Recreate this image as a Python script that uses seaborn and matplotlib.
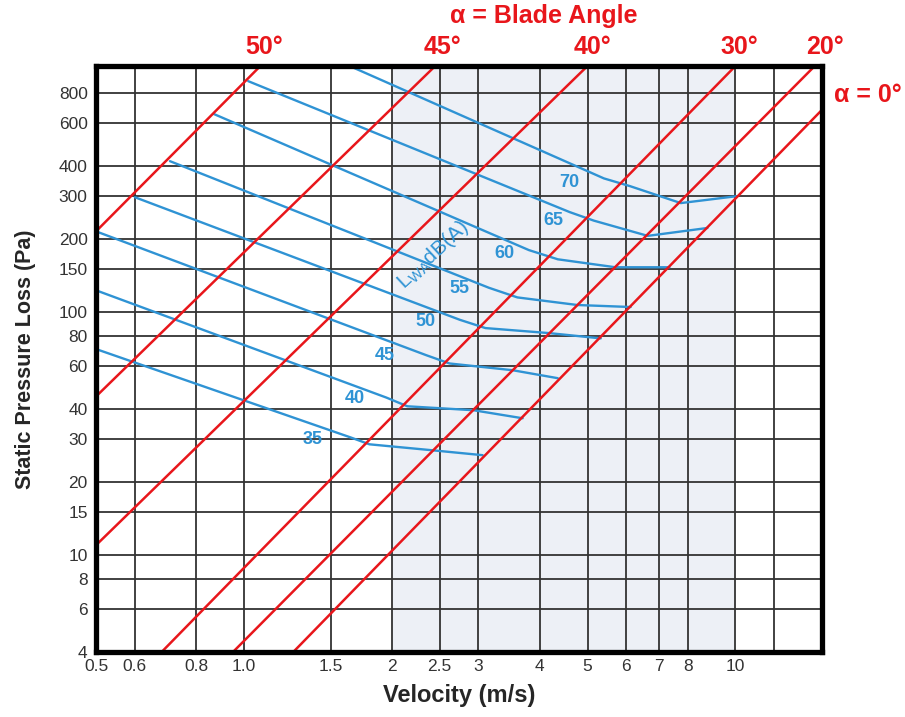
import matplotlib
matplotlib.use("Agg")
import matplotlib.pyplot as plt
import matplotlib.ticker as mticker
import pandas as pd
import seaborn as sns

# blade angle lines, read where each one meets the frame (v m/s, p Pa)
blade_angles = ["50°", "45°", "40°", "30°", "20°", "0°"]
blade_v0 = [0.5, 0.5, 0.5, 0.68, 0.95, 1.26]
blade_p0 = [215, 45, 11, 4, 4, 4]
blade_v1 = [1.08, 2.45, 5.0, 10.0, 14.5, 15.0]
blade_p1 = [1030, 1030, 1030, 1030, 1030, 680]

# sound power curves L_WA dB(A): start, bend on 30°, on 20°, end on 0°
levels = [35, 40, 45, 50, 55, 60, 65, 70]
level_v = [
    [0.5, 1.65, 1.8, 2.43, 3.06],
    [0.5, 1.95, 2.15, 2.93, 3.69],
    [0.5, 2.35, 2.62, 3.52, 4.35],
    [0.6, 2.75, 3.1, 4.18, 5.32],
    [0.707, 3.15, 3.6, 4.77, 6.12],
    [0.869, 3.8, 4.35, 5.70, 7.34],
    [1.02, 4.6, 5.15, 6.63, 8.77],
    [1.64, 5.4, 6.1, 7.74, 10.06],
]
level_p = [
    [70.5, 30.5, 28.6, 27.0, 25.8],
    [123, 44.5, 41.0, 39.5, 36.6],
    [215, 66.5, 61.5, 57.7, 53.5],
    [297, 93, 86, 82, 78],
    [418, 126, 115, 107, 105],
    [653, 180, 165, 153, 153],
    [892, 258, 238, 206, 222],
    [1030, 355, 330, 281, 300],
]
label_v = [1.38, 1.68, 1.93, 2.34, 2.75, 3.39, 4.27, 4.60]
label_p = [29.8, 44.2, 66.5, 91.8, 125.5, 175, 239, 343]

x_ticks = [0.5, 0.6, 0.8, 1.0, 1.5, 2, 2.5, 3, 4, 5, 6, 7, 8, 10]
x_ticklabels = ["0.5", "0.6", "0.8", "1.0", "1.5", "2", "2.5", "3", "4",
                "5", "6", "7", "8", "10"]
x_grid = x_ticks + [12]
y_ticks = [4, 6, 8, 10, 15, 20, 30, 40, 60, 80, 100, 150, 200, 300, 400,
           600, 800]

RED = "#e8161b"
BLUE = "#2f93d4"

sns.set_style("white")
plt.rcParams["font.family"] = ["Liberation Sans", "DejaVu Sans"]

rows = []
for ang, v0, p0, v1, p1 in zip(blade_angles, blade_v0, blade_p0, blade_v1, blade_p1):
    rows.append((ang, v0, p0))
    rows.append((ang, v1, p1))
blade_df = pd.DataFrame(rows, columns=["angle", "v", "p"])

rows = []
for lev, vs, ps in zip(levels, level_v, level_p):
    for v, p in zip(vs, ps):
        rows.append((lev, v, p))
level_df = pd.DataFrame(rows, columns=["level", "v", "p"])

fig = plt.figure(figsize=(9.05, 7.17), dpi=100)
ax = fig.add_axes([0.1061, 0.0907, 0.8022, 0.8173])

ax.axvspan(2, 10, color="#edf0f6", zorder=0, lw=0)

sns.lineplot(data=level_df, x="v", y="p", units="level", estimator=None,
             sort=False, color=BLUE, lw=1.7, ax=ax, zorder=3)
sns.lineplot(data=blade_df, x="v", y="p", units="angle", estimator=None,
             sort=False, color=RED, lw=1.8, ax=ax, zorder=4)

ax.set_xscale("log")
ax.set_yscale("log")
ax.set_xlim(0.5, 15)
ax.set_ylim(4, 1030)

ax.xaxis.set_major_locator(mticker.FixedLocator(x_ticks))
ax.xaxis.set_major_formatter(mticker.FixedFormatter(x_ticklabels))
ax.xaxis.set_minor_locator(mticker.NullLocator())
ax.yaxis.set_major_locator(mticker.FixedLocator(y_ticks))
ax.yaxis.set_major_formatter(mticker.FixedFormatter([str(t) for t in y_ticks]))
ax.yaxis.set_minor_locator(mticker.NullLocator())

for xv in x_grid:
    ax.axvline(xv, color="#333333", lw=1.3, zorder=1)
for yv in y_ticks:
    ax.axhline(yv, color="#333333", lw=1.3, zorder=1)

ax.tick_params(length=0, labelsize=12.5, labelcolor="#333333")
ax.tick_params(axis="x", pad=5)
ax.tick_params(axis="y", pad=6)
for sp in ax.spines.values():
    sp.set_linewidth(3.8)
    sp.set_color("black")
    sp.set_zorder(6)

ax.set_xlabel("Velocity (m/s)", fontsize=17, fontweight="bold", labelpad=7)
ax.set_ylabel("Static Pressure Loss (Pa)", fontsize=15.5, fontweight="bold",
              labelpad=16)

# level numbers on the curves
for lev, v, p in zip(levels, label_v, label_p):
    ax.text(v, p, str(lev), color=BLUE, fontsize=13, fontweight="bold",
            ha="center", va="center", zorder=5)
ax.text(2.42, 172, r"L$_{\mathregular{WA}}$dB(A)", color=BLUE, fontsize=15,
        rotation=43, ha="center", va="center", zorder=5)

# blade angle names above the frame
tr = ax.get_xaxis_transform()
angle_label_v = [1.10, 2.54, 5.12, 10.2, 15.2]
for ang, v in zip(blade_angles[:5], angle_label_v):
    ax.text(v, 1.032, ang, transform=tr, color=RED, fontsize=18,
            fontweight="bold", ha="center", va="center", clip_on=False)
ax.text(1.063, 0.95, "α = 0°", transform=ax.transAxes, color=RED,
        fontsize=18, fontweight="bold", ha="center", va="center",
        clip_on=False)
ax.text(0.617, 1.085, "α = Blade Angle", transform=ax.transAxes, color=RED,
        fontsize=18, fontweight="bold", ha="center", va="center",
        clip_on=False)

fig.savefig("out.png", dpi=100)
